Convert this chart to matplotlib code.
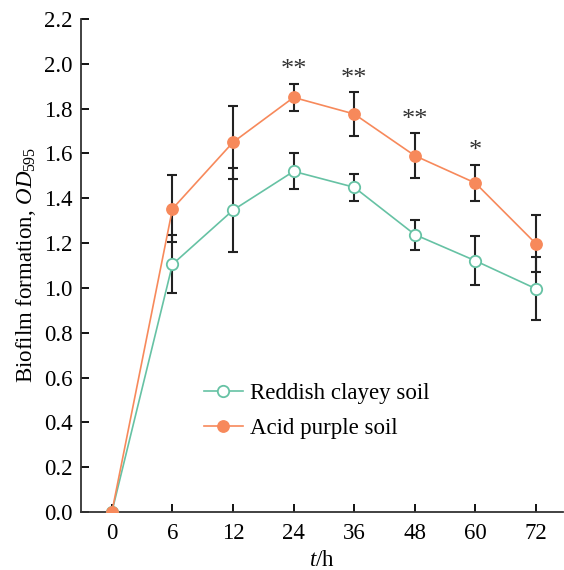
import matplotlib
matplotlib.use("Agg")
import matplotlib.pyplot as plt
import numpy as np

plt.rcParams['font.family'] = ['Liberation Serif', 'DejaVu Serif']
plt.rcParams['mathtext.fontset'] = 'custom'
plt.rcParams['mathtext.rm'] = 'Liberation Serif'
plt.rcParams['mathtext.it'] = 'Liberation Serif:italic'

time_labels = ['0', '6', '12', '24', '36', '48', '60', '72']
reddish_mean = [0.0, 1.105, 1.347, 1.520, 1.449, 1.238, 1.121, 0.996]
reddish_err = [0.0, 0.13, 0.187, 0.08, 0.06, 0.067, 0.11, 0.14]
purple_mean = [0.0, 1.353, 1.650, 1.850, 1.776, 1.590, 1.468, 1.197]
purple_err = [0.0, 0.15, 0.162, 0.06, 0.097, 0.10, 0.08, 0.127]
sig_labels = ['', '', '', '**', '**', '**', '*', '']
yticks = [0.0, 0.2, 0.4, 0.6, 0.8, 1.0, 1.2, 1.4, 1.6, 1.8, 2.0, 2.2]

green = '#66c2a4'
orange = '#f7895b'
ecol = '#222222'

fig = plt.figure(figsize=(5.64, 5.70), dpi=100)
ax = fig.add_axes([0.1436, 0.1018, 0.855, 0.8649])

x = np.arange(len(time_labels))

ax.errorbar(x, reddish_mean, yerr=reddish_err, fmt='none', ecolor=ecol,
            elinewidth=1.5, capsize=3.8, capthick=1.5, zorder=2)
ax.errorbar(x, purple_mean, yerr=purple_err, fmt='none', ecolor=ecol,
            elinewidth=1.5, capsize=3.8, capthick=1.5, zorder=2)
ax.plot(x, reddish_mean, '-o', color=green, mfc='white', mec=green, mew=1.3,
        ms=8.2, lw=1.2, label='Reddish clayey soil', zorder=3)
ax.plot(x, purple_mean, '-o', color=orange, mfc=orange, mec=orange,
        ms=8.2, lw=1.2, label='Acid purple soil', zorder=3)

for xi, m, e, s in zip(x, purple_mean, purple_err, sig_labels):
    if s:
        ax.text(xi, m + e + 0.012, s, ha='center', va='bottom', fontsize=19,
                color='#333333')

ax.set_xlim(-0.51, 7.45)
ax.set_ylim(0, 2.2)
ax.set_xticks(x)
ax.set_xticklabels(time_labels)
ax.set_yticks(yticks)
ax.set_yticklabels([f'{v:.1f}' for v in yticks])
ax.tick_params(direction='in', length=6, width=1.3, labelsize=16.5, pad=6)
ax.tick_params(axis='x', pad=8)
for sp in ['top', 'right']:
    ax.spines[sp].set_visible(False)
for sp in ['left', 'bottom']:
    ax.spines[sp].set_linewidth(1.3)
    ax.spines[sp].set_color('#333333')

ax.set_xlabel(r'$\mathit{t}$/h', fontsize=16.5, labelpad=4)
ax.set_ylabel(r'Biofilm formation, $\mathit{OD}_{\mathrm{595}}$', fontsize=16.5, labelpad=4)

ax.legend(loc='upper left', bbox_to_anchor=(0.2545, 0.262), frameon=False,
          fontsize=16.5, handlelength=1.7, handletextpad=0.3, labelspacing=0.62,
          borderpad=0, borderaxespad=0)

fig.savefig('out.png', dpi=100)
